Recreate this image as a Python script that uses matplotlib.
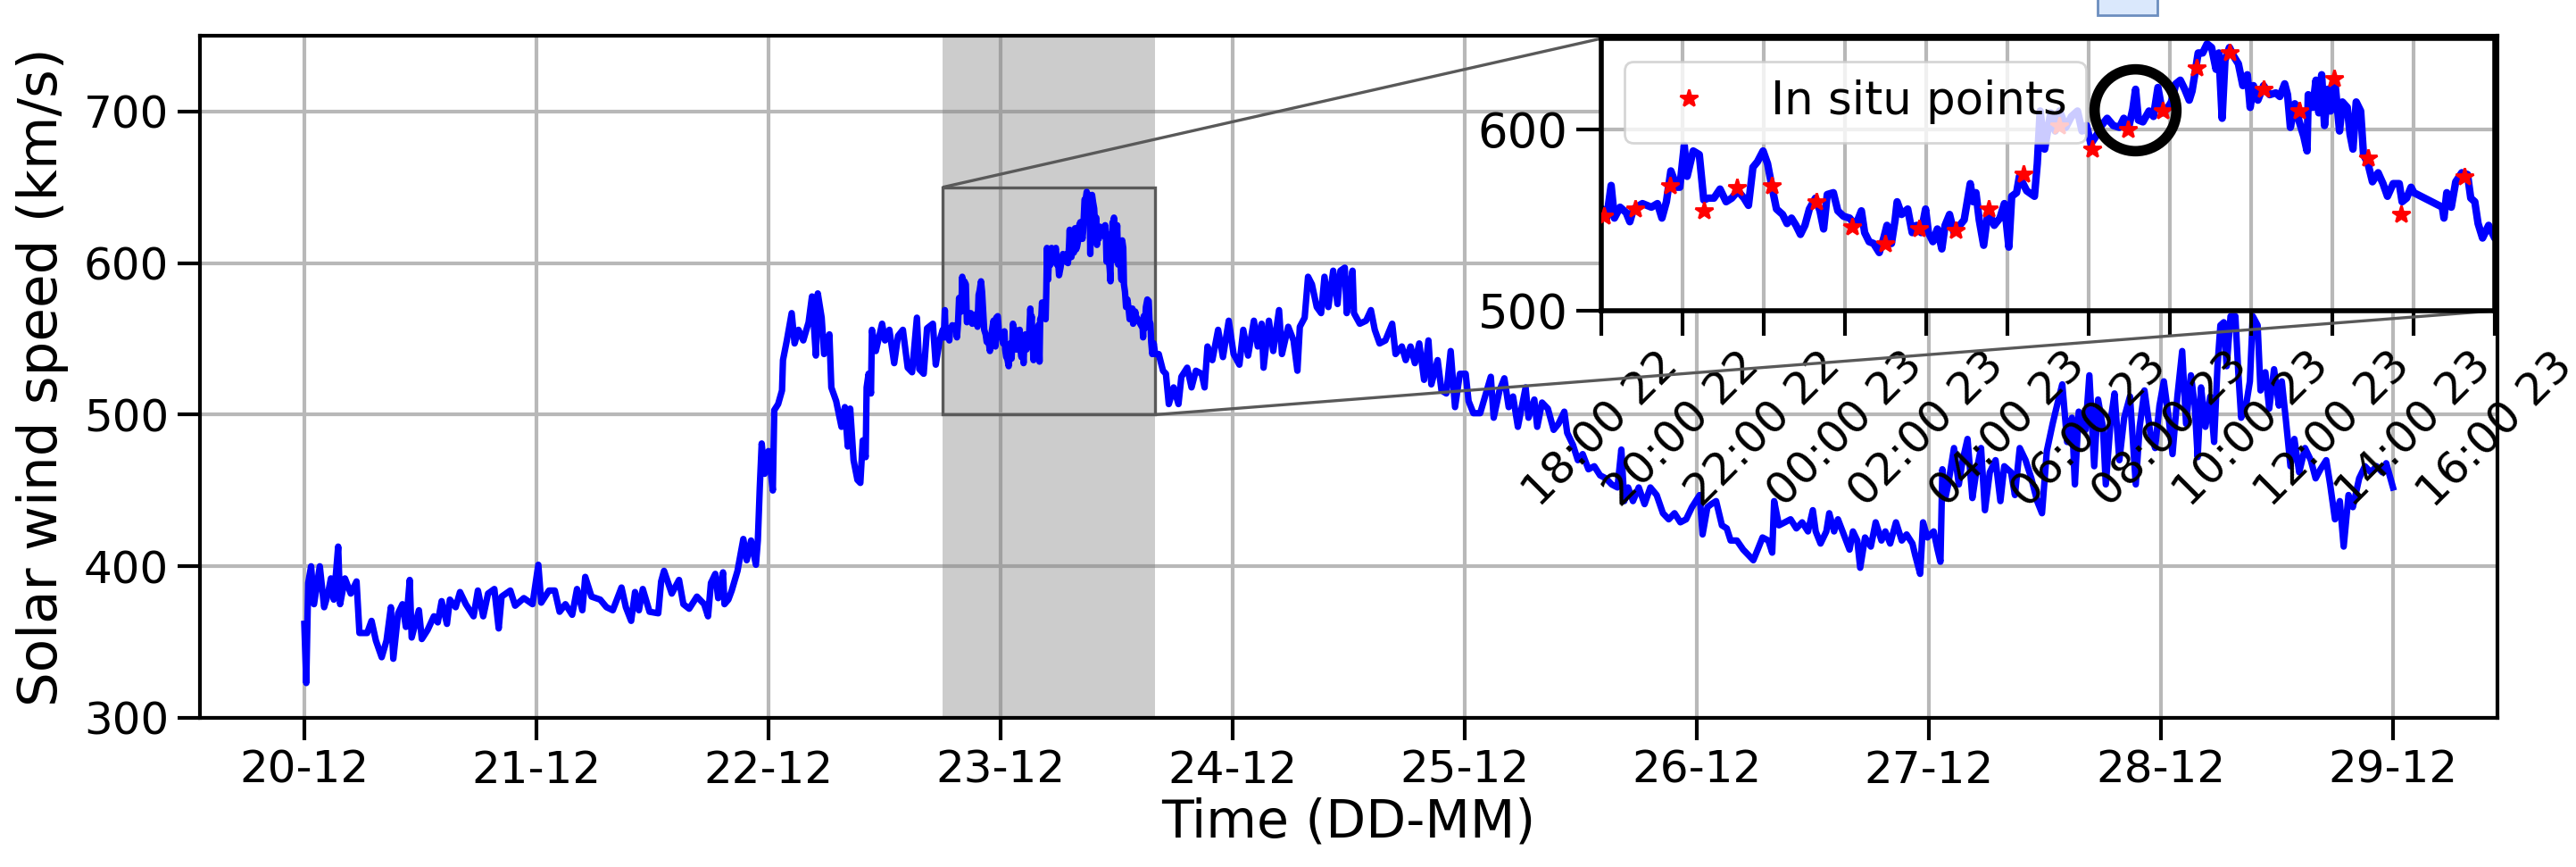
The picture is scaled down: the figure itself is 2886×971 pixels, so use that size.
import numpy as np
import pandas as pd
import matplotlib
matplotlib.use('Agg')
import matplotlib.pyplot as plt
import matplotlib.dates as mdates
from matplotlib.patches import Rectangle
from mpl_toolkits.axes_grid1.inset_locator import mark_inset

# (hours since 20-12 00:00, solar wind speed km/s)
quiet = [(0, 362), (0.2, 323), (0.4, 389), (0.7, 400), (1.0, 375), (1.6, 400), (2.05, 373),
         (2.45, 382), (2.75, 392), (3.05, 378), (3.5, 413), (3.7, 375), (4.2, 392), (4.8, 382),
         (5.4, 390), (5.7, 356), (6.5, 356), (6.95, 364), (7.4, 351), (8.0, 340), (8.5, 351),
         (8.95, 373), (9.2, 339), (9.7, 369), (10.15, 375), (10.5, 360), (10.9, 391), (11.1, 353),
         (11.85, 371), (12.15, 352), (12.75, 358), (13.4, 367), (13.8, 363), (14.2, 377),
         (14.75, 362), (15.05, 378), (15.65, 373), (16.1, 383), (16.7, 375), (17.5, 367),
         (17.95, 384), (18.5, 367), (19.0, 382), (19.65, 385), (20.1, 359), (20.4, 380),
         (21.3, 384), (21.8, 374), (22.7, 379), (23.6, 375), (24.2, 401), (24.5, 376),
         (25.3, 384), (25.9, 384), (26.4, 370), (27.0, 375), (27.7, 368), (28.2, 385),
         (28.75, 371), (29.05, 393), (29.7, 380), (30.6, 378), (31.25, 373), (31.9, 371),
         (32.8, 386), (33.25, 373), (33.8, 364), (34.2, 383), (34.6, 371), (35.0, 385),
         (35.7, 370), (36.6, 369), (36.9, 390), (37.2, 397), (38.0, 382), (38.75, 391),
         (39.2, 375), (39.8, 372), (40.6, 380), (41.35, 375)]

rise = [(41.75, 367), (42.05, 389), (42.5, 395), (42.8, 379), (43.3, 396), (43.45, 375),
        (43.85, 378), (44.2, 384), (44.8, 397), (45.4, 418), (45.75, 404), (46.2, 417),
        (46.7, 401), (46.9, 417), (47.1, 452), (47.3, 481), (47.6, 461), (48.0, 476),
        (48.45, 450), (48.6, 503), (49.0, 507), (49.4, 516), (49.5, 536), (49.9, 549),
        (50.4, 567), (50.7, 547), (51.1, 556), (51.6, 549), (52.15, 561), (52.5, 578),
        (52.9, 539), (53.1, 580), (53.5, 564), (53.75, 540), (54.3, 553), (54.5, 518),
        (55.0, 509), (55.55, 492), (55.9, 505), (56.2, 479), (56.45, 504), (56.8, 470),
        (57.2, 457), (57.5, 455), (57.75, 483), (58.05, 472), (58.15, 518), (58.35, 527),
        (58.6, 514), (58.7, 556), (59.1, 542), (59.75, 560), (60.05, 549), (60.5, 556),
        (61.0, 534), (61.4, 552), (61.9, 556), (62.4, 531), (62.85, 528), (63.35, 564),
        (63.6, 530), (64.05, 527), (64.4, 557), (65.0, 560), (65.3, 533), (65.7, 549)]

zoomed = [(66.02, 556), (66.13, 551), (66.24, 569), (66.32, 551), (66.46, 557), (66.61, 554),
          (66.7, 549), (66.79, 556), (67.01, 559), (67.23, 557), (67.38, 559), (67.49, 551),
          (67.6, 560), (67.71, 577), (67.86, 568), (67.93, 568), (68.04, 591), (68.11, 574),
          (68.26, 588), (68.41, 586), (68.52, 561), (68.63, 562), (68.77, 562), (68.92, 567),
          (69.07, 560), (69.21, 562), (69.36, 566), (69.51, 562), (69.62, 558), (69.73, 579),
          (69.84, 582), (69.98, 588), (70.09, 581), (70.2, 568), (70.31, 556), (70.46, 553),
          (70.57, 548), (70.68, 551), (70.79, 547), (70.9, 542), (71.01, 547), (71.12, 556),
          (71.27, 562), (71.38, 555), (71.47, 545), (71.56, 564), (71.71, 565), (71.82, 555),
          (71.96, 552), (72.11, 551), (72.26, 547), (72.4, 555), (72.48, 543), (72.59, 538),
          (72.7, 537), (72.84, 532), (72.95, 540), (73.03, 547), (73.14, 537), (73.23, 550),
          (73.28, 560), (73.39, 553), (73.54, 556), (73.65, 543), (73.76, 547), (73.87, 543),
          (73.98, 556), (74.05, 543), (74.16, 538), (74.27, 545), (74.38, 534), (74.46, 547),
          (74.57, 553), (74.68, 543), (74.82, 547), (74.93, 550), (75.08, 570), (75.15, 560),
          (75.22, 565), (75.3, 550), (75.41, 536), (75.52, 555), (75.67, 547), (75.81, 551),
          (75.92, 559), (76.03, 535), (76.1, 563), (76.22, 565), (76.29, 574), (76.47, 566),
          (76.66, 563), (76.73, 581), (76.8, 610), (76.91, 589), (77.06, 609), (77.17, 599),
          (77.28, 610), (77.43, 601), (77.57, 607), (77.72, 610), (77.83, 599), (77.94, 602),
          (78.05, 592), (78.2, 597), (78.31, 602), (78.45, 606), (78.6, 602), (78.75, 601),
          (78.86, 606), (78.97, 600), (79.08, 611), (79.15, 622), (79.22, 605), (79.33, 604),
          (79.48, 610), (79.59, 607), (79.7, 623), (79.81, 609), (79.92, 611), (80.03, 615),
          (80.14, 625), (80.25, 627), (80.36, 622), (80.47, 616), (80.54, 621), (80.62, 632),
          (80.69, 642), (80.8, 642), (80.91, 647), (81.02, 645), (81.13, 633), (81.2, 642),
          (81.28, 606), (81.35, 638), (81.46, 645), (81.57, 640), (81.68, 636), (81.79, 624),
          (81.9, 630), (81.97, 612), (82.05, 624), (82.16, 616), (82.3, 624), (82.45, 619),
          (82.6, 620), (82.7, 618), (82.82, 625), (82.89, 619), (82.96, 601), (83.07, 614),
          (83.18, 604), (83.29, 596), (83.37, 588), (83.4, 619), (83.51, 612), (83.59, 627),
          (83.66, 609), (83.73, 630), (83.8, 602), (83.88, 622), (83.95, 610), (84.06, 625),
          (84.17, 599), (84.24, 615), (84.36, 612), (84.43, 597), (84.5, 589), (84.58, 615),
          (84.69, 610), (84.76, 586), (84.87, 581), (84.98, 571), (85.12, 576), (85.24, 570),
          (85.35, 563), (85.49, 570), (85.64, 570), (85.71, 560), (85.82, 562), (85.93, 568),
          (86.0, 565), (86.7, 557), (86.74, 551), (86.81, 565), (86.92, 557), (87.03, 571),
          (87.18, 576), (87.32, 575), (87.4, 562), (87.5, 560), (87.58, 548), (87.69, 540),
          (87.84, 547), (87.99, 540)]

decay = [(88.36, 540), (88.8, 529), (89.1, 527), (89.4, 507), (89.9, 518), (90.4, 507),
         (90.7, 525), (91.3, 531), (91.75, 518), (92.2, 529), (92.8, 527), (93.1, 518),
         (93.4, 545), (93.9, 536), (94.5, 556), (95.0, 538), (95.6, 562), (96.1, 540),
         (96.7, 533), (97.1, 556), (97.6, 539), (98.2, 562), (98.6, 545), (99.0, 560),
         (99.2, 531), (99.75, 562), (100.2, 542), (100.8, 569), (101.1, 540), (101.75, 558),
         (102.3, 549), (102.7, 529), (102.95, 558), (103.45, 564), (103.8, 591), (104.2, 586),
         (104.7, 571), (105.15, 567), (105.5, 591), (105.9, 571), (106.4, 595), (106.85, 573),
         (107.15, 595), (107.6, 597), (107.8, 567), (108.1, 582), (108.4, 595), (108.55, 567),
         (109.15, 560), (109.8, 562), (110.3, 569), (110.7, 556), (111.2, 547), (111.8, 549),
         (112.5, 560), (112.85, 540), (113.5, 545), (113.9, 536), (114.4, 545), (114.85, 534),
         (115.3, 547), (115.8, 523), (116.25, 549), (116.55, 520), (117.2, 536), (117.6, 516),
         (118.1, 514), (118.55, 542), (119.0, 505), (119.5, 527), (120.1, 527), (120.4, 509),
         (120.9, 501), (121.6, 501), (122.2, 514), (122.7, 525), (123.0, 498), (123.6, 516),
         (124.1, 524), (124.55, 505), (125.0, 512), (125.5, 492), (126.3, 518), (126.6, 498),
         (127.2, 510), (127.5, 492), (128.0, 508), (128.6, 504), (129.2, 490), (129.7, 494),
         (130.3, 502), (130.6, 488), (131.2, 480), (131.7, 470), (132.2, 474), (132.8, 464),
         (133.4, 466), (134.0, 460), (134.6, 458), (135.2, 454), (135.8, 452), (136.2, 477),
         (136.5, 443), (136.9, 452), (137.4, 443), (138.0, 452), (138.6, 441), (139.2, 452),
         (139.85, 447), (140.5, 435), (141.1, 431), (141.7, 435), (142.3, 429), (142.9, 431),
         (143.5, 439), (144.3, 447), (144.6, 421), (145.1, 439), (145.5, 441), (146.0, 443),
         (146.6, 427), (147.1, 425), (147.5, 417), (148.15, 417), (148.8, 411), (149.4, 407),
         (149.85, 404), (150.3, 411), (150.8, 419), (151.4, 417), (151.8, 409), (152.0, 443),
         (152.5, 427), (153.1, 429), (153.7, 431), (154.3, 425), (154.9, 429), (155.5, 423),
         (156.0, 437), (156.3, 423), (156.8, 415), (157.4, 423), (157.7, 435), (158.2, 423),
         (158.6, 431), (159.2, 421), (159.8, 411), (160.15, 423), (160.6, 417), (160.9, 399),
         (161.4, 419), (162.0, 413), (162.5, 429), (163.1, 417), (163.5, 423), (164.0, 415),
         (164.6, 429), (165.2, 417), (165.7, 421), (166.3, 415), (166.6, 407), (167.1, 395),
         (167.4, 429), (167.85, 419), (168.5, 423), (168.9, 411), (169.2, 403), (169.4, 464),
         (169.7, 445), (170.0, 454), (170.6, 478), (171.1, 454), (171.5, 470), (172.0, 484),
         (172.5, 445), (172.9, 462), (173.4, 478), (173.8, 437), (174.3, 462), (174.9, 470),
         (175.4, 443), (175.8, 466), (176.5, 462), (176.9, 447), (177.4, 478), (178.0, 470),
         (178.6, 458), (179.2, 443), (179.7, 435), (180.2, 476), (180.8, 494), (181.4, 510),
         (181.8, 520), (182.3, 482), (182.8, 498), (183.1, 454), (183.5, 502), (184.2, 490),
         (184.6, 526), (185.1, 466), (185.5, 510), (186.0, 492), (186.3, 454), (186.8, 496),
         (187.2, 514), (187.7, 470), (188.2, 498), (188.8, 512), (189.4, 454), (189.8, 492),
         (190.3, 516), (190.9, 488), (191.4, 478), (191.85, 506), (192.3, 522), (192.8, 498),
         (193.2, 474), (193.7, 512), (194.2, 542), (194.6, 494), (195.1, 526), (195.5, 506),
         (195.8, 472), (196.15, 518), (196.6, 492), (197.1, 512), (197.5, 482), (197.85, 532),
         (198.15, 559), (198.5, 561), (198.8, 532), (199.2, 565), (199.7, 565), (200.0, 528),
         (200.3, 498), (200.8, 506), (201.2, 522), (201.5, 565), (202.0, 559), (202.3, 516),
         (202.8, 528), (203.2, 504), (203.7, 530), (204.2, 506), (204.5, 522), (204.9, 498),
         (205.4, 466), (205.8, 484), (206.3, 462), (206.9, 478), (207.5, 470), (208.0, 458),
         (208.5, 464), (209.1, 470), (209.5, 454), (210.0, 431), (210.5, 443), (210.9, 413),
         (211.4, 447), (211.85, 439), (212.5, 458), (213.1, 466), (213.7, 462), (214.3, 466),
         (214.9, 462), (215.3, 468), (216.0, 452)]

# in situ reference points shown in the zoom panel
insitu = [(66.06, 552), (66.83, 556), (67.69, 569), (68.52, 555), (69.34, 568), (70.20, 569),
          (71.29, 560), (72.18, 546), (72.99, 537), (73.83, 545), (74.71, 544), (75.54, 556),
          (76.40, 575), (77.28, 602), (78.09, 589), (78.97, 600), (79.82, 610), (80.65, 634),
          (81.47, 642), (82.29, 622), (83.18, 610), (84.04, 628), (84.87, 584), (85.69, 553),
          (87.24, 574)]
highlight = (79.13, 610.5)
zoom_window = (66, 88)       # hours
zoom_speed = (500, 650)

START = pd.Timestamp('2023-12-20')


def to_time(hours):
    return (START + pd.to_timedelta(np.atleast_1d(np.asarray(hours, dtype=float)), unit='h')).values


hours, speed = np.array(quiet + rise + zoomed + decay, dtype=float).T
t = to_time(hours)
ins_h, ins_v = np.array(insitu, dtype=float).T

FS = 18
fig = plt.figure(figsize=(14.43, 4.855), dpi=200)
ax = fig.add_axes([0.0776, 0.172, 0.8919, 0.7868])

ax.plot(t, speed, color='blue', lw=2.6, zorder=2)
w0, w1 = to_time(zoom_window)
ax.axvspan(w0, w1, color='gray', alpha=0.4, lw=0, zorder=1.6)

ax.set_ylim(300, 750)
ax.set_yticks([300, 400, 500, 600, 700])
ax.set_xlim(to_time(-10.8)[0], to_time(226.8)[0])
ax.xaxis.set_major_locator(mdates.DayLocator())
ax.xaxis.set_major_formatter(mdates.DateFormatter('%d-%m'))
ax.grid(True, color='#b8b8b8', lw=1.5)
ax.tick_params(labelsize=FS, length=9, width=1.5)
for s in ax.spines.values():
    s.set_linewidth(1.5)
ax.set_xlabel('Time (DD-MM)', fontsize=21, labelpad=2)
ax.set_ylabel('Solar wind speed (km/s)', fontsize=22, labelpad=6)

# zoom panel
axins = ax.inset_axes([0.61, 0.597, 0.389, 0.399])
axins.plot(t, speed, color='blue', lw=3, zorder=2)
axins.plot(to_time(ins_h), ins_v, linestyle='none', marker='*', color='red', ms=7.5,
           label='In situ points', zorder=3)
axins.plot(to_time(highlight[0]), [highlight[1]], linestyle='none', marker='o', ms=33,
           mfc='none', mec='black', mew=4.2, zorder=4)
axins.set_xlim(w0, w1)
axins.set_ylim(*zoom_speed)
axins.set_yticks([500, 600])
axins.xaxis.set_major_locator(mdates.HourLocator(byhour=range(0, 24, 2)))
axins.xaxis.set_major_formatter(mdates.DateFormatter('%H:%M %d'))
axins.grid(True, color='#b8b8b8', lw=1.5)
axins.tick_params(axis='y', labelsize=19, length=10, width=1.5)
axins.tick_params(axis='x', labelsize=18, length=10, width=1.5, labelrotation=45)
for s in axins.spines.values():
    s.set_linewidth(2)
axins.legend(loc='upper left', fontsize=18.5)

mark_inset(ax, axins, loc1=2, loc2=4, fc='none', ec='0.35', lw=1.2, zorder=1.8)

# stray box clipped at the top edge of the original figure
fig.patches.append(Rectangle((0.8143, 0.9825), 0.0232, 0.04, transform=fig.transFigure,
                             fc='#dae8fc', ec='#6c8ebf', lw=1))

fig.savefig('out.png', dpi=200)
